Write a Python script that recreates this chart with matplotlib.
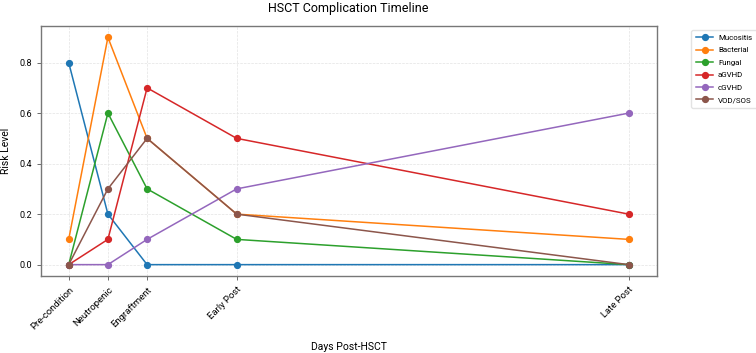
import matplotlib
matplotlib.use("Agg")
import matplotlib.pyplot as plt

plt.rcParams['font.family'] = ['Roboto', 'DejaVu Sans']

# days post-HSCT for each phase
days = [0, 7, 14, 30, 100]
phases = ['Pre-condition', 'Neutropenic', 'Engraftment', 'Early Post', 'Late Post']

mucositis = [0.8, 0.2, 0.0, 0.0, 0.0]
bacterial = [0.1, 0.9, 0.5, 0.2, 0.1]
fungal = [0.0, 0.6, 0.3, 0.1, 0.0]
agvhd = [0.0, 0.1, 0.7, 0.5, 0.2]
cgvhd = [0.0, 0.0, 0.1, 0.3, 0.6]
vod_sos = [0.0, 0.3, 0.5, 0.2, 0.0]

series = [
    ('Mucositis', mucositis),
    ('Bacterial', bacterial),
    ('Fungal', fungal),
    ('aGVHD', agvhd),
    ('cGVHD', cgvhd),
    ('VOD/SOS', vod_sos),
]

fig = plt.figure(figsize=(7.56, 3.53), dpi=100)
ax = fig.add_axes([40.7 / 756, 1 - 276 / 353, 616 / 756, 250 / 353])

for name, vals in series:
    ax.plot(days, vals, marker='o', markersize=4.2, linewidth=1.1, label=name)

ax.set_xticks(days)
ax.set_xticklabels(phases, rotation=45, ha='right', rotation_mode='anchor')
ax.tick_params(axis='both', labelsize=6.5, length=3, width=0.6, color='#555555')
ax.tick_params(axis='x', labelsize=6.8)
ax.set_yticks([0.0, 0.2, 0.4, 0.6, 0.8])
ax.set_xlabel('Days Post-HSCT', fontsize=7.5, labelpad=8)
ax.set_ylabel('Risk Level', fontsize=7.5, labelpad=6)
ax.set_title('HSCT Complication Timeline', fontsize=9, pad=10)
ax.grid(True, color='#e3e3e3', linestyle='--', linewidth=0.5)
for sp in ax.spines.values():
    sp.set_color('#777777')
    sp.set_linewidth(1.0)

ax.legend(loc='upper left', bbox_to_anchor=(1.05, 1.0), fontsize=5.7,
          frameon=True, edgecolor='#dddddd', handlelength=2.2, handletextpad=0.6,
          labelspacing=0.75, borderpad=0.55)

fig.savefig('out.png', dpi=100)
